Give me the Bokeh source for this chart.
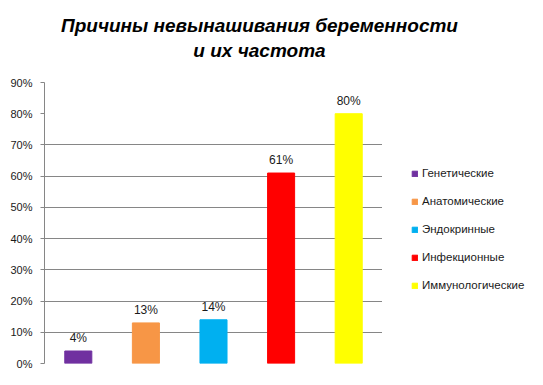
from bokeh.plotting import figure
from bokeh.layouts import column, row
from bokeh.core.properties import value
from bokeh.models import (FactorRange, Range1d, ColumnDataSource, LabelSet, Label,
                          Legend, LegendItem, FixedTicker, PrintfTickFormatter)
from bokeh.embed import file_html
from bokeh.resources import INLINE

# ---- data ----
categories = ["Генетические", "Анатомические", "Эндокринные", "Инфекционные", "Иммунологические"]
values = [4, 13, 14, 61, 80]
value_labels = ["4%", "13%", "14%", "61%", "80%"]
colors = ["#7030A0", "#F79646", "#00B0F0", "#FF0000", "#FFFF00"]
y_ticks = [0, 10, 20, 30, 40, 50, 60, 70, 80, 90]
grid_ticks = [0, 10, 20, 30, 40, 50, 60, 70]
title_lines = ["Причины невынашивания беременности", "и их частота"]

FONT = "Liberation Sans"
GREY = "#868686"
TXT = "#1a1a1a"

source = ColumnDataSource(dict(cat=categories, val=values, lbl=value_labels, color=colors))

# ---------- title strip ----------
pt = figure(width=527, height=72, x_range=Range1d(0, 527), y_range=Range1d(0, 72),
            output_backend="svg", toolbar_location=None, x_axis_type=None, y_axis_type=None,
            min_border=0)
pt.outline_line_color = None
pt.grid.visible = False
for txt, yv in zip(title_lines, [47, 22]):
    pt.add_layout(Label(x=259, y=yv, text=txt, text_align="center", text_baseline="alphabetic",
                        text_font=FONT, text_font_size="19px", text_font_style="bold italic",
                        text_color="black"))

# ---------- main chart ----------
p = figure(width=382, height=297, x_range=FactorRange(*categories), y_range=Range1d(0, 90),
           output_backend="svg", toolbar_location=None,
           min_border_left=44, min_border_right=0, min_border_top=10, min_border_bottom=6)
p.outline_line_color = None

bars = p.vbar(x="cat", top="val", width=0.4, color="color", source=source)

p.xaxis.visible = False
p.xgrid.visible = False
p.ygrid.ticker = FixedTicker(ticks=grid_ticks)
p.ygrid.grid_line_color = GREY
p.ygrid.grid_line_width = 1

ax = p.yaxis[0]
ax.ticker = FixedTicker(ticks=y_ticks)
ax.formatter = PrintfTickFormatter(format="%d%%")
ax.axis_line_color = GREY
ax.major_tick_line_color = GREY
ax.major_tick_out = 4
ax.major_tick_in = 0
ax.minor_tick_line_color = None
ax.major_label_standoff = 8
ax.major_label_text_font = FONT
ax.major_label_text_font_size = "11px"
ax.major_label_text_color = TXT

labels = LabelSet(x="cat", y="val", text="lbl", source=source, y_offset=9,
                  text_align="center", text_baseline="alphabetic",
                  text_font=value(FONT), text_font_size="12px", text_color=TXT)
p.add_layout(labels)

# ---------- legend strip ----------
pl = figure(width=145, height=297, x_range=FactorRange(*categories), y_range=Range1d(0, 90),
            output_backend="svg", toolbar_location=None, x_axis_type=None, y_axis_type=None,
            min_border=0)
pl.outline_line_color = None
pl.grid.visible = False
lbars = pl.vbar(x="cat", top="val", width=0.4, color="color", source=source)
lbars.visible = False

items = [LegendItem(label=c, renderers=[lbars], index=i) for i, c in enumerate(categories)]
legend = Legend(items=items, location=(29, 71), orientation="vertical",
                glyph_width=7, glyph_height=7, label_height=14, spacing=14,
                label_standoff=4, padding=0, margin=0,
                border_line_color=None, background_fill_alpha=0,
                inactive_fill_alpha=0,
                label_text_font=FONT, label_text_font_size="11.5px", label_text_color=TXT)
pl.add_layout(legend, "center")

layout = column(pt, row(p, pl, spacing=0), spacing=0)
open("out.html", "w").write(file_html(layout, INLINE))
